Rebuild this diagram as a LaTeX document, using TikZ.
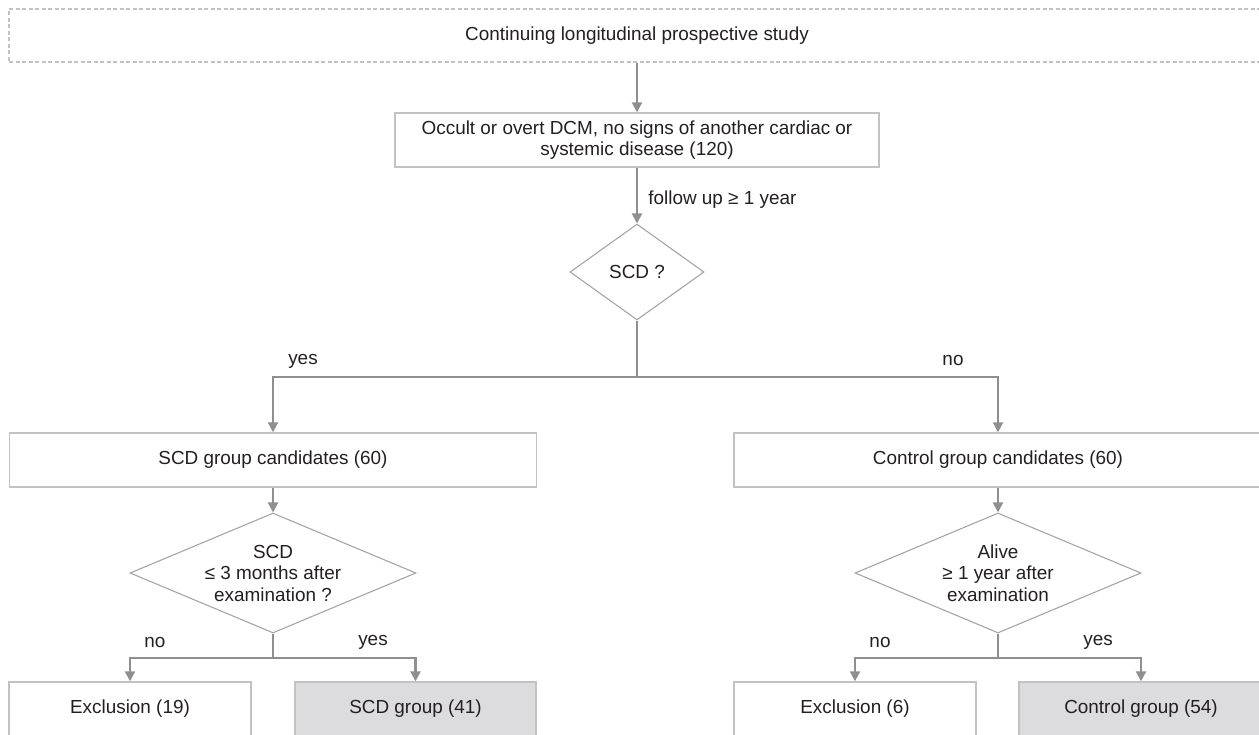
\documentclass[tikz,border=0pt]{standalone}
\usepackage{fontspec}
\setmainfont{Liberation Sans}
\usepackage{tikz}
\usetikzlibrary{positioning}
\usetikzlibrary{shapes.geometric}
\usetikzlibrary{arrows.meta}
\definecolor{linegray}{HTML}{8F8F91}
\definecolor{boxgray}{HTML}{C2C2C2}
\definecolor{fillgray}{HTML}{DCDCDE}
\definecolor{inkgray}{HTML}{231F20}
\tikzset{
    stage/.style={draw=boxgray, line width=1.4pt, rectangle, minimum height=54pt, inner sep=0pt, text=inkgray, align=center},
    decide/.style={draw=boxgray!85!black, line width=1.1pt, diamond, inner sep=0pt, text=inkgray, align=center},
    flow/.style={draw=linegray, line width=2.1pt, -{Triangle[length=10pt,width=10pt]}},
    joint/.style={draw=linegray, line width=2.1pt},
    answer/.style={text=inkgray}
}
\begin{document}
\begin{tikzpicture}[x=1pt,y=-1pt,font=\fontsize{18.9}{21.5}\selectfont]
        \path[use as bounding box,clip] (0,0) rectangle (1259,734);
        \node[stage, dash pattern=on 4pt off 2.5pt, minimum width=1256pt, minimum height=53pt] (study) at (637,35.5) {Continuing longitudinal prospective study};
        \node[stage, minimum width=484pt] (dcm) at (637,140) {Occult or overt DCM, no signs of another cardiac or\\systemic disease (120)};
        \node[decide, minimum width=134pt, minimum height=96pt] (scd) at (637,272) {SCD ?};
        \coordinate (split) at (637,377);
        \node[stage, minimum width=527pt] (scdcand) at (273,460) {SCD group candidates (60)};
        \node[stage, minimum width=528pt] (ctrlcand) at (998,460) {Control group candidates (60)};
        \node[decide, aspect=2.4, minimum width=286pt, minimum height=120pt] (scdq) at (273,573) {SCD\\≤ 3 months after\\examination ?};
        \node[decide, aspect=2.4, minimum width=286pt, minimum height=120pt] (aliveq) at (998,573) {Alive\\≥ 1 year after\\examination};
        \coordinate (splitl) at (273,658);
        \coordinate (splitr) at (998,658);
        \node[stage, minimum width=242pt] (excl19) at (130,709) {Exclusion (19)};
        \node[stage, fill=fillgray, minimum width=241pt] (scdgrp) at (415.5,709) {SCD group (41)};
        \node[stage, minimum width=242pt] (excl6) at (855,709) {Exclusion (6)};
        \node[stage, fill=fillgray, minimum width=244pt] (ctrlgrp) at (1141,709) {Control group (54)};
        \draw[flow] (study) -- (dcm);
        \draw[flow] (dcm) -- (scd) node[answer, pos=0.57, right=7pt] (followup) {follow up ≥ 1 year};
        \draw[joint] (scd) -- (split);
        \draw[flow] (split) -| (scdcand);
        \draw[flow] (split) -| (ctrlcand);
        \draw[flow] (scdcand) -- (scdq);
        \draw[flow] (ctrlcand) -- (aliveq);
        \draw[joint] (scdq) -- (splitl);
        \draw[joint] (aliveq) -- (splitr);
        \draw[flow] (splitl) -| (excl19);
        \draw[flow] (splitl) -| (scdgrp);
        \draw[flow] (splitr) -| (excl6);
        \draw[flow] (splitr) -| (ctrlgrp);
        \node[answer] (yestop) at (303,361) {yes};
        \node[answer] (notop) at (953,361) {no};
        \node[answer] (noleft) at (155,642) {no};
        \node[answer] (yesleft) at (373,642) {yes};
        \node[answer] (noright) at (880,642) {no};
        \node[answer] (yesright) at (1098,642) {yes};
    \end{tikzpicture}
\end{document}
